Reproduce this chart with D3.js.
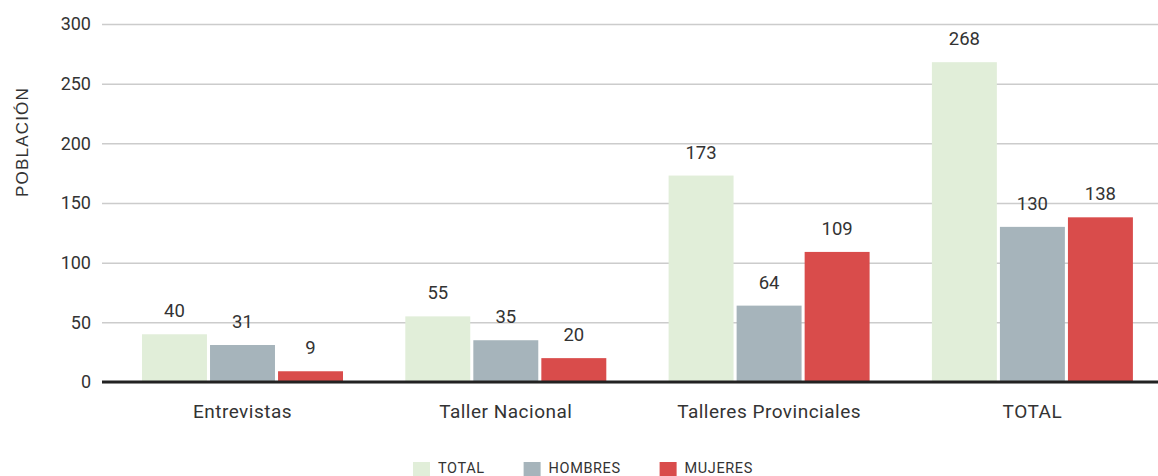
<!DOCTYPE html>
<html>
<head>
<meta charset="utf-8">
<script src="https://cdn.jsdelivr.net/npm/d3@7"></script>
<style>
  html, body { margin: 0; padding: 0; background: #fff; }
  svg { display: block; }
  text { font-family: Roboto, "DejaVu Sans Condensed", sans-serif; fill: #333; }
</style>
</head>
<body>
<svg id="chart" width="1158" height="476"></svg>
<script>
const categories = ["Entrevistas", "Taller Nacional", "Talleres Provinciales", "TOTAL"];
const seriesNames = ["TOTAL", "HOMBRES", "MUJERES"];
const totalValues = [40, 55, 173, 268];
const hombresValues = [31, 35, 64, 130];
const mujeresValues = [9, 20, 109, 138];
const yTicks = [0, 50, 100, 150, 200, 250, 300];
const colors = ["#e1eed9", "#a6b4bb", "#d94c4b"];
const yTitle = "POBLACIÓN";

const seriesValues = [totalValues, hombresValues, mujeresValues];
const rows = categories.map((c, i) => ({
  cat: c,
  vals: seriesNames.map((s, j) => ({ s, j, v: seriesValues[j][i] }))
}));

const svg = d3.select("#chart");
const plotLeft = 102, plotRight = 1158, plotTop = 24, plotBottom = 382;

const y = d3.scaleLinear().domain([0, 300]).range([plotBottom, plotTop]);
const x0 = d3.scaleBand().domain(categories).range([110.85, 1164.05]).paddingInner(0.2366).paddingOuter(0.1183);
const x1 = d3.scaleBand().domain(seriesNames).range([0, x0.bandwidth()]).paddingInner(0.045);
const color = d3.scaleOrdinal().domain(seriesNames).range(colors);

// Y axis with gridlines
const yAxis = svg.append("g")
  .attr("transform", `translate(${plotLeft},0)`)
  .call(d3.axisLeft(y).tickValues(yTicks).tickSize(-(plotRight - plotLeft)).tickPadding(11));
yAxis.select(".domain").remove();
yAxis.selectAll(".tick line").attr("stroke", "#cccccc").attr("stroke-width", 1.5);
yAxis.selectAll(".tick text")
  .style("font-family", "Roboto, sans-serif")
  .style("font-size", "18px")
  .attr("fill", "#333");

// Bars
const groups = svg.append("g").selectAll("g")
  .data(rows).join("g")
  .attr("transform", d => `translate(${x0(d.cat)},0)`);

groups.selectAll("rect")
  .data(d => d.vals).join("rect")
  .attr("x", d => x1(d.s))
  .attr("width", x1.bandwidth())
  .attr("y", d => y(d.v))
  .attr("height", d => y(0) - y(d.v))
  .attr("fill", d => color(d.s));

groups.selectAll("text.val")
  .data(d => d.vals).join("text")
  .attr("class", "val")
  .attr("x", d => x1(d.s) + x1.bandwidth() / 2)
  .attr("y", d => y(d.v) - 17)
  .attr("text-anchor", "middle")
  .style("font-size", "18.5px")
  .text(d => d.v);

// Baseline
svg.append("line")
  .attr("x1", plotLeft).attr("x2", plotRight)
  .attr("y1", y(0)).attr("y2", y(0))
  .attr("stroke", "#222").attr("stroke-width", 3);

// X axis
const xAxis = svg.append("g")
  .attr("transform", `translate(0,${y(0)})`)
  .call(d3.axisBottom(x0).tickSize(0).tickPadding(23));
xAxis.select(".domain").remove();
xAxis.selectAll(".tick text")
  .style("font-family", "Roboto, sans-serif")
  .style("font-size", "19px")
  .style("letter-spacing", "0.5px")
  .attr("fill", "#333");

// Y title
svg.append("text")
  .attr("transform", `translate(28,${(plotTop + plotBottom) / 2 - 61}) rotate(-90)`)
  .attr("text-anchor", "middle")
  .style("font-family", "'Liberation Sans', Arial, sans-serif")
  .style("font-size", "17px")
  .style("letter-spacing", "1.2px")
  .text(yTitle);

// Legend
const legend = svg.append("g");
let lx = 413;
seriesNames.forEach((s, i) => {
  legend.append("rect")
    .attr("x", lx).attr("y", 462)
    .attr("width", 17).attr("height", 17)
    .attr("fill", color(s));
  const t = legend.append("text")
    .attr("x", lx + 25).attr("y", 473)
    .style("font-size", "14.5px")
    .style("letter-spacing", "0.6px")
    .attr("fill", "#444")
    .text(s);
  const w = t.node().getComputedTextLength();
  lx = lx + 25 + w + 39;
});
</script>
</body>
</html>
